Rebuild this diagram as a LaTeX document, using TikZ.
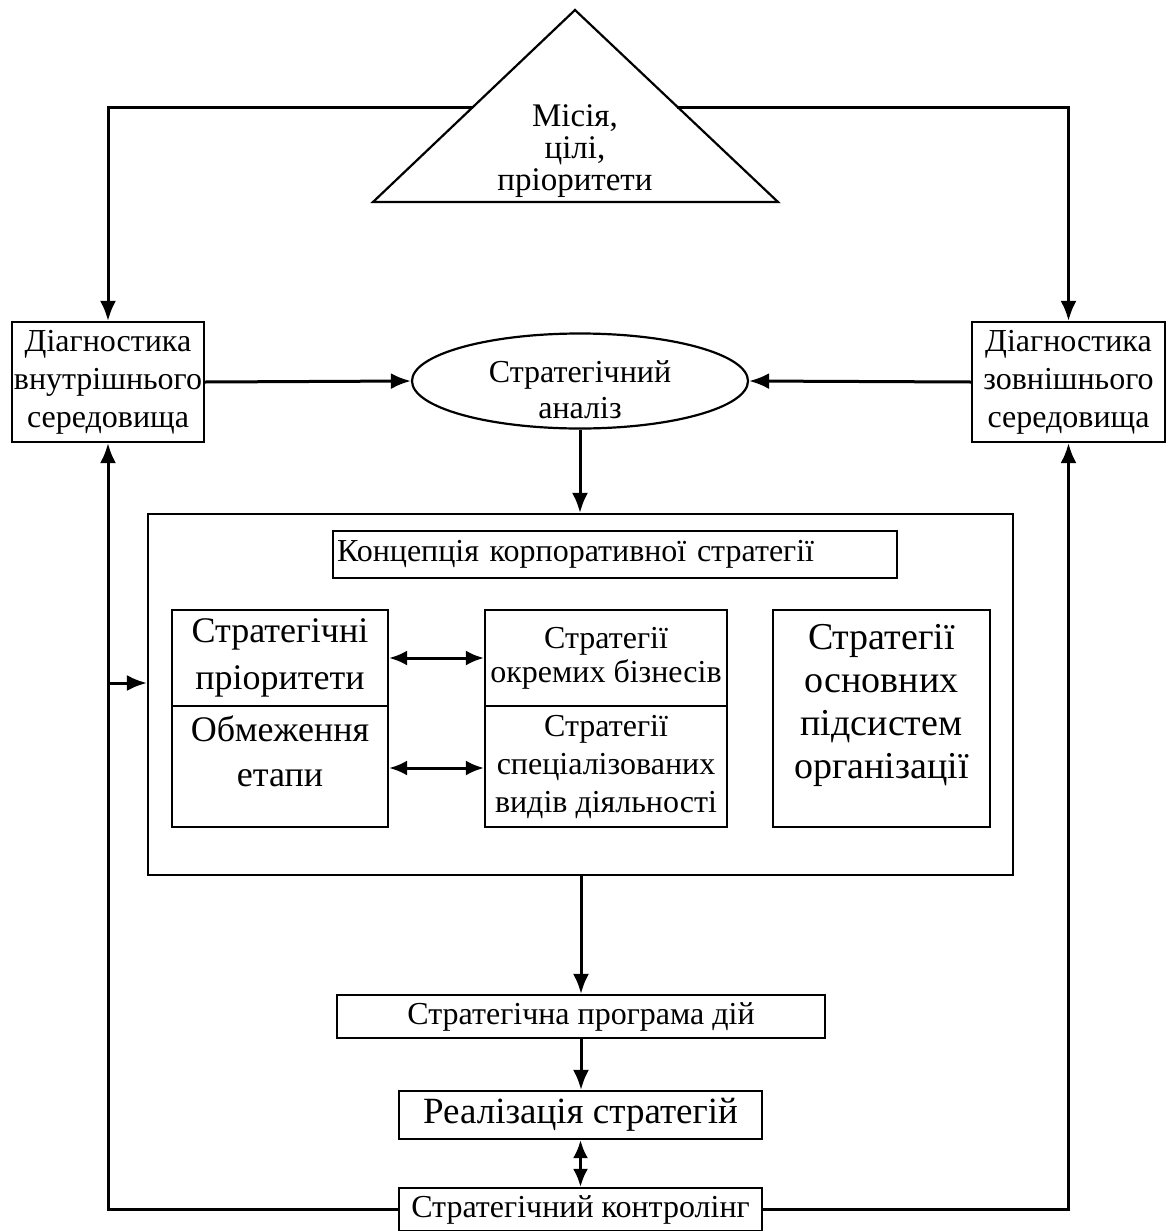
\documentclass[tikz,border=0pt]{standalone}
\usepackage{fontspec}
\setmainfont{Liberation Serif}
\usepackage{tikz}
\usetikzlibrary{positioning, arrows.meta, shapes.geometric, calc}
\tikzset{
    blok/.style={draw, line width=1.1pt, inner sep=0pt, align=center},
    lnk/.style={line width=1.5pt, -{Latex[length=10pt, width=8pt]}},
    dlnk/.style={line width=1.5pt, {Latex[length=9pt, width=7.5pt]}-{Latex[length=9pt, width=7.5pt]}},
    txtm/.style={font=\fontsize{16}{18}\selectfont, align=center},
    txtb/.style={font=\fontsize{19}{21.5}\selectfont, align=center}
}

\begin{document}
\begin{tikzpicture}[x=0.5pt, y=-0.5pt]
    \useasboundingbox (0,0) rectangle (1174,1231);

    % Місія
    \draw[line width=1.1pt] (575,10) -- (778,202) -- (373,202) -- cycle;
    \node[font=\fontsize{16.5}{16}\selectfont, align=center] (misia) at (575,151) {Місія,\\цілі,\\пріоритети};
    \coordinate (mleft) at (473,107);
    \coordinate (mright) at (677,107);

    % Діагностика
    \node[blok, minimum width=96pt, minimum height=60pt, font=\fontsize{16}{19}\selectfont] (diagin) at (108,382) {Діагностика\\внутрішнього\\середовища};
    \node[blok, minimum width=96.5pt, minimum height=60pt, font=\fontsize{16}{19}\selectfont] (diagout) at (1068.5,382) {Діагностика\\зовнішнього\\середовища};

    % Стратегічний аналіз
    \node[draw, ellipse, line width=1.1pt, inner sep=0pt, minimum width=168pt, minimum height=47.5pt] (analiz) at (580,381) {};
    \node[txtm, yshift=-4.5pt] (analiztxt) at (analiz) {Стратегічний\\аналіз};

    % Концепція
    \node[blok, minimum width=432.5pt, minimum height=180.5pt] (strat) at (580.5,694.5) {};
    \node[blok, text width=278pt, inner xsep=2pt, minimum height=23.5pt, align=left, font=\fontsize{16}{18}\selectfont] (konc) at (615,554.5) {Концепція корпоративної стратегії};

    \node[blok, minimum width=108pt, minimum height=48pt, txtb, font=\fontsize{18}{23.5}\selectfont] (prior) at (280,658) {Стратегічні\\пріоритети};
    \node[blok, minimum width=108pt, minimum height=60.5pt] (obm) at (280,766.5) {};
    \node[txtb, font=\fontsize{18}{22.5}\selectfont, below=2pt of obm.north] (obmtxt) {Обмеження\\етапи};

    \node[blok, minimum width=121pt, minimum height=48pt, txtm, font=\fontsize{16}{17}\selectfont] (biz) at (606,658) {Стратегії\\окремих бізнесів};
    \node[blok, minimum width=121pt, minimum height=60.5pt, txtm, font=\fontsize{16}{19}\selectfont] (spec) at (606,766.5) {Стратегії\\спеціалізованих\\видів діяльності};

    \node[blok, minimum width=108.5pt, minimum height=108.5pt] (pids) at (881.5,718.5) {};
    \node[txtb, below=4pt of pids.north] (pidstxt) {Стратегії\\основних\\підсистем\\організації};

    \draw[dlnk] (prior.east) -- (biz.west |- prior.east);
    \draw[dlnk] ($(obm.east)+(0,1.5)$) -- ($(spec.west)+(0,1.5)$);

    % Програма, реалізація, контролінг
    \node[blok, minimum width=244pt, minimum height=21.5pt, txtm] (prog) at (581,1016.5) {Стратегічна програма дій};
    \node[blok, minimum width=181.5pt, minimum height=24pt, font=\fontsize{18.5}{20}\selectfont] (real) at (580.5,1115) {Реалізація стратегій};
    \node[blok, minimum width=181.5pt, minimum height=21.5pt, txtm] (ctrl) at (580.5,1209.5) {Стратегічний контролінг};

    % Зв'язки
    \draw[lnk] (mleft) -| (diagin.north);
    \draw[lnk] (mright) -| (diagout.north);
    \draw[lnk] (diagin.east) -- (analiz.west);
    \draw[lnk] (diagout.west) -- (analiz.east);
    \draw[lnk] (analiz.south) -- (analiz.south |- strat.north);
    \draw[lnk] (strat.south -| prog.north) -- (prog.north);
    \draw[lnk] (prog.south) -- (real.north -| prog.south);
    \draw[dlnk] (real.south) -- (ctrl.north);
    \draw[lnk] (ctrl.west) -| (diagin.south);
    \draw[lnk] (ctrl.east) -| (diagout.south);
    \coordinate (br) at (108,683);
    \draw[lnk] (br) -- (br -| strat.west);
\end{tikzpicture}
\end{document}
